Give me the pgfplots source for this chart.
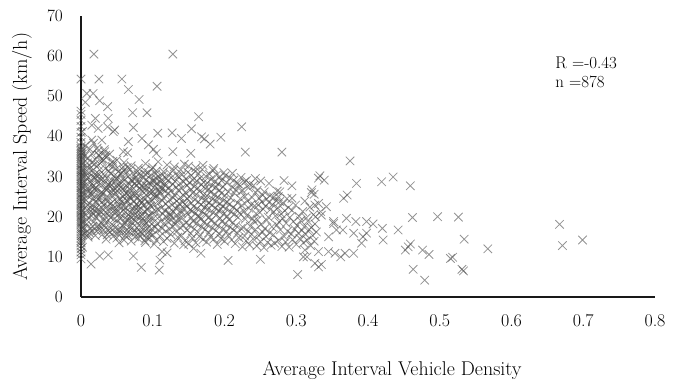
\documentclass[border=0pt]{standalone}
\usepackage{pgfplots}
\pgfplotsset{compat=1.18}
\begin{document}
\fontsize{18}{21}\selectfont
\begin{tikzpicture}
\path[use as bounding box] (-81bp,-87bp) rectangle (601bp,297bp);
\begin{axis}[
  scale only axis, width=574bp, height=281bp,
  xmin=0, xmax=0.8, ymin=0, ymax=70,
  axis x line=bottom, axis y line=left,
  axis line style={-, line width=1.6bp, black!90},
  xtick={0,0.1,0.2,0.3,0.4,0.5,0.6,0.7,0.8},
  xticklabels={0,0.1,0.2,0.3,0.4,0.5,0.6,0.7,0.8},
  ytick={0,10,20,30,40,50,60,70},
  major tick length=0pt,
  tick label style={font=\fontsize{18}{21}\selectfont},
  xticklabel style={yshift=-11bp},
  yticklabel style={xshift=-12bp},
  label style={font=\fontsize{20}{24}\selectfont},
  xlabel={Average Interval Vehicle Density},
  ylabel={Average Interval Speed (km/h)},
  xlabel style={at={(axis description cs:0.542,-0.26)}, anchor=center},
  ylabel style={at={(axis description cs:-0.1028,0.5)}, anchor=center},
  clip=false,
]
\addplot[only marks, mark=x, mark size=6bp, draw=black!70, draw opacity=0.6, mark options={line width=0.8bp}] coordinates {
% x = 0 column
(0,9.5)(0,10.5)(0,11.2)(0,12)(0,12.8)(0,13.5)(0,14)(0,14.6)(0,15.2)(0,15.8)(0,16.3)(0,16.9)(0,17.4)(0,18)(0,18.5)(0,19)(0,19.5)(0,20)(0,20.4)(0,20.9)
(0,21.3)(0,21.8)(0,22.2)(0,22.7)(0,23.1)(0,23.6)(0,24)(0,24.5)(0,24.9)(0,25.4)(0,25.8)(0,26.3)(0,26.7)(0,27.2)(0,27.6)(0,28.1)(0,28.5)(0,29)(0,29.4)(0,29.9)
(0,30.3)(0,30.8)(0,31.2)(0,31.7)(0,32.1)(0,32.6)(0,33)(0,33.5)(0,34)(0,34.5)(0,35)(0,35.4)(0,35.8)(0,36.2)(0,36.6)(0,37)(0,37.5)(0,38.5)(0,39.8)(0,41)
(0,42.5)(0,44)(0,45.5)(0,46.3)(0,54.3)
(0.002,15.5)(0.002,18.7)(0.002,21.5)(0.002,24.2)(0.002,27.4)(0.002,30.1)(0.002,33.2)(0.002,35.6)(0.002,36.3)(0.002,41.2)(0.002,12.4)(0.002,17.2)(0.002,26)(0.002,31.5)
% outliers
(0.018,60.5)(0.128,60.5)(0.025,54.3)(0.057,54.3)(0.066,51.7)(0.106,52.5)(0.081,49.2)(0.008,50.7)(0.017,50.7)(0.006,48.5)
(0.026,48.9)(0.037,47.4)(0.072,45.9)(0.092,45.9)(0.164,44.9)(0.020,44.5)(0.038,44.5)(0.024,42.0)(0.015,42.8)(0.037,42.4)
(0.047,41.6)(0.073,42.2)(0.107,40.8)(0.127,40.9)(0.140,39.5)(0.154,41.9)(0.168,39.9)(0.172,39.4)(0.180,38.1)(0.195,39.8)
(0.224,42.4)(0.085,39.5)(0.094,37.9)(0.066,38.7)(0.105,35.8)(0.128,36.2)(0.153,35.8)(0.229,36.1)(0.280,36.1)(0.375,33.9)
(0.101,36.8)(0.065,35.9)(0.059,36.2)(0.033,36.2)(0.024,36.4)(0.006,37.7)(0.029,39.1)(0.015,39.1)(0.045,41.2)
(0.333,30.2)(0.339,29.1)(0.331,29.6)(0.384,28.3)(0.419,28.7)(0.435,29.9)(0.459,27.7)(0.283,29.0)(0.294,27.7)(0.262,28.3)
(0.277,26.2)(0.275,25.0)(0.294,24.6)(0.322,26.7)(0.325,25.6)(0.366,24.6)(0.371,25.4)(0.326,22.9)(0.334,21.3)(0.342,22.5)
(0.331,23.3)(0.352,18.8)(0.370,19.6)(0.383,18.8)(0.335,20.4)(0.327,20.0)(0.462,19.8)(0.497,20.0)(0.526,19.9)(0.534,14.4)
(0.533,6.5)(0.531,6.9)(0.515,9.6)(0.518,9.9)(0.567,12.0)(0.667,18.1)(0.671,12.8)(0.699,14.2)(0.479,4.2)(0.463,6.9)
(0.485,10.6)(0.476,11.7)(0.459,13.2)(0.452,11.7)(0.456,12.5)(0.442,16.7)(0.421,14.2)(0.420,17.1)(0.407,18.2)(0.398,18.8)
(0.393,15.0)(0.398,15.9)(0.391,13.4)(0.380,10.9)(0.380,15.9)(0.368,10.9)(0.362,10.0)(0.354,10.9)(0.345,11.3)(0.365,16.7)
(0.356,16.7)(0.352,18.3)(0.321,26.0)(0.331,7.5)(0.326,8.4)(0.335,8.1)(0.302,5.6)(0.331,11.3)(0.315,10.0)(0.312,11.7)
(0.345,15.0)(0.205,9.1)(0.250,9.4)(0.310,10.0)(0.014,8.2)(0.026,10.2)(0.038,10.5)(0.073,10.2)(0.084,7.4)(0.109,6.7)
(0.110,9.2)(0.113,11.3)(0.120,11.0)(0.053,13.5)(0.089,14.0)(0.102,13.2)(0.143,13.0)(0.157,12.1)(0.167,10.9)(0.010,15.4)
% dense body, x < 0.1
(0.005,15.8)(0.008,18.2)(0.006,20.5)(0.009,22.9)(0.007,24.1)(0.0085,26.3)(0.0055,27.8)(0.008,29.5)(0.006,31.2)(0.009,33.4)(0.005,35.1)(0.0075,19.3)(0.0095,25.2)(0.0065,30.4)
(0.010,14.9)(0.013,17.1)(0.011,19.6)(0.014,21.4)(0.012,23.3)(0.0135,25.7)(0.0105,27.1)(0.013,28.6)(0.011,30.9)(0.014,32.3)(0.010,34.6)(0.0125,36.8)(0.0145,20.2)(0.0115,26.4)
(0.015,16.4)(0.018,18.8)(0.016,20.9)(0.019,22.4)(0.017,24.6)(0.0185,26.9)(0.0155,28.2)(0.018,29.8)(0.016,31.5)(0.019,33.1)(0.015,35.7)(0.0175,38.3)(0.0195,23.7)(0.0165,27.5)
(0.020,15.3)(0.023,17.6)(0.021,19.9)(0.024,21.8)(0.022,23.5)(0.0235,25.1)(0.0205,27.3)(0.023,28.9)(0.021,30.2)(0.024,32.8)(0.020,34.2)(0.0225,37.1)(0.0245,24.4)(0.0215,26.6)
(0.025,16.9)(0.028,18.4)(0.026,20.6)(0.029,22.2)(0.027,24.9)(0.0285,26.1)(0.0255,27.9)(0.028,29.3)(0.026,31.7)(0.029,33.6)(0.025,35.4)(0.0275,21.3)(0.0295,25.6)
(0.030,15.6)(0.033,17.8)(0.031,19.2)(0.034,21.1)(0.032,23.0)(0.0335,24.3)(0.0305,25.9)(0.033,28.4)(0.031,30.6)(0.034,32.0)(0.030,33.9)(0.0325,36.7)(0.0345,27.0)
(0.035,14.4)(0.038,16.6)(0.036,18.7)(0.039,20.3)(0.037,22.6)(0.0385,24.8)(0.0355,26.6)(0.038,28.0)(0.036,29.6)(0.039,31.4)(0.035,34.8)(0.0375,23.8)
(0.040,16.2)(0.043,18.1)(0.041,19.8)(0.044,21.9)(0.042,23.4)(0.0435,25.3)(0.0405,27.6)(0.043,29.1)(0.041,30.8)(0.044,32.5)(0.040,35.6)(0.0425,26.2)
(0.045,15.1)(0.048,17.3)(0.046,19.4)(0.049,22.0)(0.047,24.2)(0.0485,25.8)(0.0455,27.2)(0.048,28.7)(0.046,30.1)(0.049,31.9)(0.045,33.3)(0.0475,20.7)
(0.050,14.7)(0.053,16.8)(0.051,18.9)(0.054,20.8)(0.052,22.5)(0.0535,24.5)(0.0505,26.5)(0.053,28.3)(0.051,29.9)(0.054,31.6)(0.050,34.1)(0.0525,23.2)
(0.055,15.9)(0.058,17.9)(0.056,19.7)(0.059,21.6)(0.057,23.6)(0.0585,25.0)(0.0555,27.4)(0.058,29.4)(0.056,30.7)(0.059,32.4)(0.055,24.3)(0.0575,26.8)
(0.060,14.2)(0.063,16.5)(0.061,18.3)(0.064,20.1)(0.062,22.3)(0.0635,24.0)(0.0605,25.5)(0.063,27.7)(0.061,29.2)(0.064,31.1)(0.060,33.5)(0.0625,21.2)
(0.065,15.4)(0.068,17.5)(0.066,19.1)(0.069,21.0)(0.067,22.8)(0.0685,24.7)(0.0655,26.2)(0.068,28.1)(0.066,30.0)(0.069,31.8)(0.065,23.9)(0.0675,27.0)
(0.070,13.9)(0.073,16.1)(0.071,18.6)(0.074,20.4)(0.072,22.1)(0.0735,23.7)(0.0705,25.6)(0.073,27.1)(0.071,29.0)(0.074,30.5)(0.070,32.7)(0.0725,19.4)
(0.075,15.0)(0.078,17.2)(0.076,19.0)(0.079,21.5)(0.077,23.1)(0.0785,24.6)(0.0755,26.0)(0.078,27.8)(0.076,29.7)(0.079,31.3)(0.075,22.4)(0.0775,28.8)
(0.080,14.5)(0.083,16.3)(0.081,18.0)(0.084,20.0)(0.082,21.7)(0.0835,23.4)(0.0805,25.2)(0.083,26.9)(0.081,28.5)(0.084,30.3)(0.080,32.1)(0.0825,24.1)
(0.085,15.7)(0.088,17.7)(0.086,19.5)(0.089,21.3)(0.087,22.9)(0.0885,24.4)(0.0855,26.4)(0.088,28.2)(0.086,29.8)(0.089,31.5)(0.085,20.6)(0.0875,27.3)
(0.090,13.6)(0.093,16.0)(0.091,18.5)(0.094,20.2)(0.092,22.0)(0.0935,23.8)(0.0905,25.4)(0.093,27.5)(0.091,29.3)(0.094,31.0)(0.090,33.2)(0.0925,21.6)
(0.095,14.8)(0.098,17.0)(0.096,19.3)(0.099,21.1)(0.097,22.7)(0.0985,24.2)(0.0955,26.1)(0.098,27.9)(0.096,30.2)(0.099,31.9)(0.095,23.3)(0.0975,25.9)
(0.0045,17.0)(0.0085,21.7)(0.0055,28.6)(0.0095,32.3)(0.0115,16.0)(0.0135,22.3)(0.0105,29.7)(0.0145,33.5)
(0.0165,17.6)(0.0185,21.6)(0.0155,25.5)(0.0195,30.6)(0.0215,16.4)(0.0235,20.8)(0.0205,29.6)(0.0245,35.3)
(0.0265,17.7)(0.0285,23.5)(0.0255,30.5)(0.0295,34.4)(0.0315,16.7)(0.0335,20.1)(0.0305,29.5)(0.0345,35.3)
(0.0365,15.5)(0.0385,21.4)(0.0355,27.3)(0.0395,32.9)(0.0415,17.1)(0.0435,22.6)(0.0405,28.4)(0.0445,33.8)
(0.0465,16.2)(0.0485,21.3)(0.0455,26.5)(0.0495,29.4)(0.0515,15.8)(0.0535,19.8)(0.0505,27.4)(0.0545,30.7)
(0.0565,16.9)(0.0585,22.6)(0.0555,28.4)(0.0595,31.5)(0.0615,15.3)(0.0635,19.2)(0.0605,26.6)(0.0645,32.3)
(0.0665,16.4)(0.0685,20.0)(0.0655,25.4)(0.0695,29.1)(0.0715,17.3)(0.0735,21.2)(0.0705,24.6)(0.0745,28.1)
(0.0765,16.1)(0.0785,20.2)(0.0755,25.3)(0.0795,30.5)(0.0815,15.4)(0.0835,19.0)(0.0805,22.6)(0.0845,27.7)
(0.0865,16.7)(0.0885,18.6)(0.0855,23.6)(0.0895,30.6)(0.0915,14.8)(0.0935,17.2)(0.0905,26.4)(0.0945,28.4)
(0.0965,15.9)(0.0985,18.2)(0.0955,20.2)(0.0995,29.0)
% dense body, 0.1 to 0.2
(0.100,15.5)(0.103,17.4)(0.101,19.6)(0.104,21.4)(0.102,23.0)(0.1035,24.9)(0.1005,26.3)(0.103,27.6)(0.101,28.9)(0.104,30.6)(0.100,32.3)(0.1025,25.5)(0.1045,29.6)
(0.105,14.1)(0.108,16.7)(0.106,18.2)(0.109,20.0)(0.107,21.8)(0.1085,23.5)(0.1055,25.1)(0.108,26.7)(0.106,28.4)(0.109,29.9)(0.105,31.4)(0.1075,33.7)(0.1095,27.4)
(0.110,15.2)(0.113,17.1)(0.111,18.8)(0.114,20.7)(0.112,22.2)(0.1135,24.0)(0.1105,25.8)(0.113,27.0)(0.111,28.6)(0.114,30.4)(0.110,26.2)(0.1125,29.2)
(0.115,13.8)(0.118,16.4)(0.116,18.4)(0.119,19.9)(0.117,21.6)(0.1185,23.2)(0.1155,24.6)(0.118,26.5)(0.116,28.0)(0.119,29.5)(0.115,31.2)(0.1175,27.7)
(0.120,14.6)(0.123,16.9)(0.121,18.7)(0.124,20.5)(0.122,22.4)(0.1235,24.3)(0.1205,25.7)(0.123,27.2)(0.121,29.0)(0.124,30.8)(0.120,32.9)(0.1225,21.0)
(0.125,15.6)(0.128,17.6)(0.126,19.2)(0.129,21.2)(0.127,22.9)(0.1285,24.7)(0.1255,26.4)(0.128,28.1)(0.126,29.7)(0.129,31.6)(0.125,20.1)
(0.130,13.4)(0.133,16.2)(0.131,18.1)(0.134,20.3)(0.132,22.1)(0.1335,23.9)(0.1305,25.3)(0.133,27.3)(0.131,28.8)(0.134,30.2)(0.130,32.4)(0.1325,19.0)
(0.135,14.9)(0.138,17.3)(0.136,19.4)(0.139,21.5)(0.137,23.3)(0.1385,24.8)(0.1355,26.6)(0.138,28.3)(0.136,30.0)(0.139,31.7)(0.135,22.6)
(0.140,15.3)(0.143,17.8)(0.141,19.8)(0.144,21.9)(0.142,23.6)(0.1435,25.2)(0.1405,27.1)(0.143,28.7)(0.141,30.5)(0.144,33.1)(0.140,20.9)
(0.145,14.0)(0.148,16.6)(0.146,18.5)(0.149,20.6)(0.147,22.7)(0.1485,24.5)(0.1455,26.0)(0.148,27.8)(0.146,29.4)(0.149,31.1)(0.145,23.1)
(0.150,13.2)(0.153,15.8)(0.151,17.9)(0.154,19.7)(0.152,21.7)(0.1535,23.4)(0.1505,25.0)(0.153,26.8)(0.151,28.5)(0.154,30.3)(0.150,32.6)
(0.155,14.7)(0.158,17.0)(0.156,18.9)(0.159,20.8)(0.157,22.5)(0.1585,24.2)(0.1555,25.9)(0.158,27.5)(0.156,29.1)(0.159,31.3)(0.155,21.4)
(0.160,13.5)(0.163,16.1)(0.161,18.3)(0.164,20.2)(0.162,22.0)(0.1635,23.7)(0.1605,25.6)(0.163,27.2)(0.161,28.9)(0.164,30.7)(0.160,32.2)
(0.165,15.1)(0.168,17.5)(0.166,19.5)(0.169,21.3)(0.167,23.0)(0.1685,24.6)(0.1655,26.3)(0.168,28.0)(0.166,29.6)(0.169,31.8)(0.165,20.0)
(0.170,14.3)(0.173,16.8)(0.171,18.6)(0.174,20.4)(0.172,22.3)(0.1735,24.1)(0.1705,25.4)(0.173,27.0)(0.171,28.6)(0.174,30.1)(0.170,32.8)
(0.175,13.7)(0.178,16.0)(0.176,18.0)(0.179,19.9)(0.177,21.8)(0.1785,23.5)(0.1755,25.2)(0.178,26.9)(0.176,28.4)(0.179,30.6)(0.175,22.8)
(0.180,15.0)(0.183,17.2)(0.181,19.1)(0.184,21.0)(0.182,22.9)(0.1835,24.4)(0.1805,26.1)(0.183,27.7)(0.181,29.3)(0.184,31.5)
(0.185,14.4)(0.188,16.5)(0.186,18.4)(0.189,20.5)(0.187,22.2)(0.1885,23.8)(0.1855,25.5)(0.188,27.3)(0.186,28.8)(0.189,30.4)(0.185,32.0)
(0.190,13.1)(0.193,15.7)(0.191,17.7)(0.194,19.6)(0.192,21.5)(0.1935,23.3)(0.1905,24.9)(0.193,26.6)(0.191,28.2)(0.194,29.9)
(0.195,14.6)(0.198,16.9)(0.196,18.8)(0.199,20.7)(0.197,22.6)(0.1985,24.0)(0.1955,25.8)(0.198,27.4)(0.196,29.0)(0.199,31.0)(0.195,21.9)
% dense body, 0.2 to 0.33
(0.200,13.9)(0.203,16.3)(0.201,18.2)(0.204,20.1)(0.202,22.0)(0.2035,23.6)(0.2005,25.3)(0.203,28.5)(0.201,30.2)
(0.205,15.4)(0.208,17.4)(0.206,19.3)(0.209,21.2)(0.207,23.1)(0.2085,24.7)(0.2055,26.2)(0.208,29.6)
(0.210,14.2)(0.213,16.6)(0.211,18.5)(0.214,20.6)(0.212,22.4)(0.2135,25.9)(0.2105,27.5)(0.213,29.1)(0.211,30.8)
(0.215,13.3)(0.218,15.9)(0.216,17.8)(0.219,19.8)(0.217,21.7)(0.2185,23.4)(0.2155,26.7)(0.218,28.3)
(0.220,14.8)(0.223,17.1)(0.221,20.9)(0.224,22.8)(0.222,24.5)(0.2235,26.4)(0.2205,28.0)(0.223,29.8)
(0.225,12.5)(0.228,15.2)(0.226,17.3)(0.229,19.4)(0.227,21.4)(0.2285,25.0)(0.2255,26.5)(0.228,28.7)
(0.230,14.0)(0.233,16.4)(0.231,20.3)(0.234,22.1)(0.232,23.9)(0.2335,27.2)(0.2305,29.0)
(0.235,13.0)(0.238,15.6)(0.236,17.6)(0.239,19.5)(0.237,23.0)(0.2385,24.8)(0.2355,28.1)
(0.240,14.5)(0.243,16.8)(0.241,18.9)(0.244,20.8)(0.242,22.7)(0.2435,26.0)(0.2405,27.8)(0.243,29.5)
(0.245,12.7)(0.248,15.3)(0.246,19.2)(0.249,21.1)(0.247,22.9)(0.2485,24.6)(0.2455,26.6)
(0.250,13.8)(0.253,16.2)(0.251,18.1)(0.254,21.9)(0.252,23.7)(0.2535,25.4)(0.2505,28.9)
(0.255,12.3)(0.258,15.0)(0.256,17.0)(0.259,19.1)(0.257,22.6)(0.2585,24.4)(0.2555,26.2)
(0.260,13.6)(0.263,16.0)(0.261,19.9)(0.264,21.8)(0.262,23.5)(0.2635,25.2)
(0.265,12.9)(0.268,15.5)(0.266,17.5)(0.269,21.2)(0.267,23.0)(0.2685,24.9)
(0.270,13.4)(0.273,17.9)(0.271,20.2)(0.274,22.2)(0.272,24.0)(0.2735,26.4)
(0.275,14.1)(0.278,16.7)(0.276,18.7)(0.279,20.7)(0.277,23.8)
(0.280,12.6)(0.283,15.1)(0.281,19.6)(0.284,21.5)(0.282,23.3)
(0.285,13.7)(0.288,16.4)(0.286,18.4)(0.289,22.3)(0.287,24.5)
(0.290,12.4)(0.293,15.7)(0.291,19.8)(0.294,21.6)
(0.295,14.3)(0.298,16.9)(0.296,18.8)(0.299,22.9)
(0.300,13.1)(0.303,15.9)(0.301,17.8)(0.304,20.1)
(0.305,14.6)(0.308,16.6)(0.306,19.0)(0.309,21.3)
(0.310,13.5)(0.313,15.6)(0.311,17.5)(0.314,19.7)(0.312,23.9)
(0.315,14.2)(0.318,16.8)(0.316,18.9)(0.319,22.4)
(0.320,12.8)(0.323,15.3)(0.321,17.3)(0.324,20.5)
(0.325,13.9)(0.328,16.2)(0.326,18.2)
};
\node[anchor=west, inner sep=0pt, font=\fontsize{17}{20}\selectfont] at (axis cs:0.661,58.3) {R =-0.43};
\node[anchor=west, inner sep=0pt, font=\fontsize{17}{20}\selectfont] at (axis cs:0.661,53.6) {n =878};
\end{axis}
\end{tikzpicture}
\end{document}
